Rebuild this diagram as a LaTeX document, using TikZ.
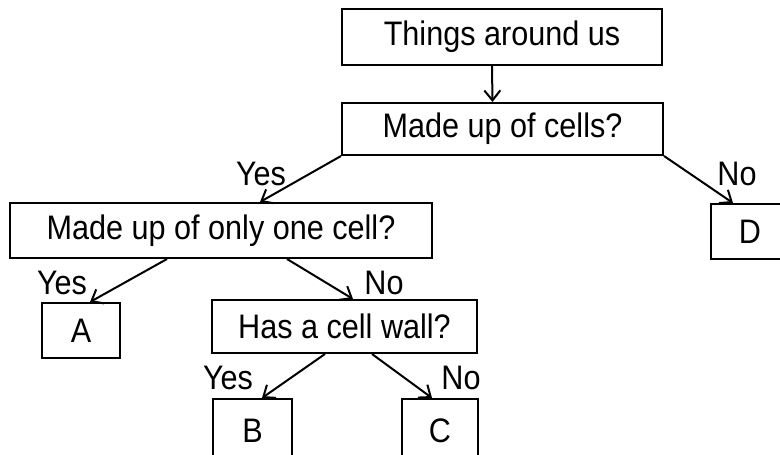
\documentclass[tikz,border=0pt]{standalone}
\usepackage{fontspec}
\newfontfamily\flowfont{Liberation Sans}[FakeStretch=0.9]
\usetikzlibrary{arrows,arrows.meta,positioning}
\tikzset{
    qbox/.style args={#1 #2}{
        draw, line width=2pt, inner sep=0pt,
        minimum width=#1, minimum height=#2,
        font=\flowfont\fontsize{34}{36}\selectfont
    },
    yesno/.style={inner sep=0pt, font=\flowfont\fontsize{34}{36}\selectfont},
    branch/.style={line width=2pt, -{Straight Barb[length=10pt,width=16pt]}}
}

\begin{document}
\begin{tikzpicture}[x=1pt,y=-1pt]
    \useasboundingbox (0,0) rectangle (780,455);
    % boxes
    \node[qbox={320pt 56pt}] (things) at (502,37) {Things around us};
    \node[qbox={321pt 52pt}] (cells) at (502.5,129) {Made up of cells?};
    \node[qbox={422pt 55pt}] (onecell) at (221,230.5) {Made up of only one cell?};
    \node[qbox={78pt 55pt}] (D) at (750,231.5) {D};
    \node[qbox={78pt 55pt}] (A) at (81,330.5) {A};
    \node[qbox={265pt 53pt}] (wall) at (344.5,326.5) {Has a cell wall?};
    \node[qbox={79pt 63pt}] (B) at (252.5,430.5) {B};
    \node[qbox={76pt 63pt}] (C) at (440,430.5) {C};
    % connectors
    \draw[branch] ([xshift=-10pt]things.south) -- ([xshift=-10pt]cells.north);
    \draw[branch] (cells.south west) -- ([xshift=39pt]onecell.north);
    \draw[branch] (cells.south east) -- ([xshift=-17pt]D.north);
    \draw[branch] ([xshift=-54pt]onecell.south) -- ([xshift=9pt]A.north);
    \draw[branch] ([xshift=66pt]onecell.south) -- ([xshift=8.5pt]wall.north);
    \draw[branch] ([xshift=-19.5pt]wall.south) -- ([xshift=9.5pt]B.north);
    \draw[branch] ([xshift=27.5pt]wall.south) -- ([xshift=-8pt]C.north);
    % labels
    \node[yesno] (y1) at (261,174) {Yes};
    \node[yesno] (n1) at (737,174) {No};
    \node[yesno] (y2) at (62,283) {Yes};
    \node[yesno] (n2) at (384,283) {No};
    \node[yesno] (y3) at (228,378) {Yes};
    \node[yesno] (n3) at (461,378) {No};
\end{tikzpicture}
\end{document}
